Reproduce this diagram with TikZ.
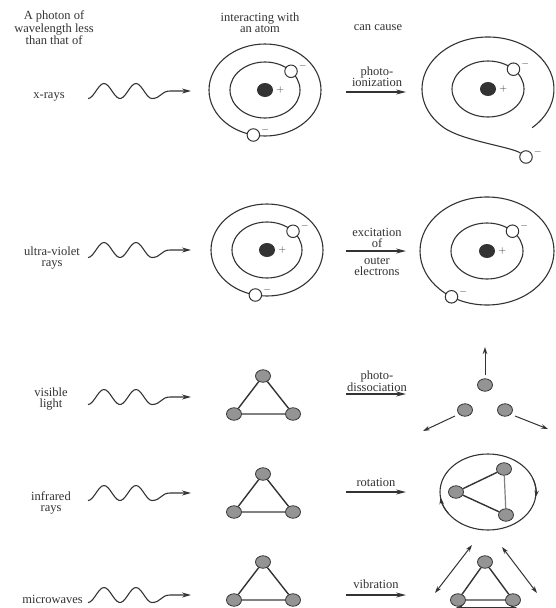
\documentclass[tikz,border=0pt]{standalone}
\usepackage{fontspec}
\setmainfont{Liberation Serif}
\usetikzlibrary{shapes.geometric,arrows.meta,calc}

\definecolor{ink}{gray}{0.2}
\definecolor{ballgray}{gray}{0.58}
\tikzset{
 txt/.style={align=center,font=\fontsize{12.5}{11}\selectfont,text=ink,inner sep=0pt},
 charge/.style={inner sep=0pt,text=ink,font=\fontsize{10}{10}\selectfont},
 orbit/.style={draw=ink,line width=1.1pt},
 nucleus/.style={ellipse,fill=ink,minimum width=16pt,minimum height=14pt,inner sep=0pt,
   label={[charge,xshift=3pt]0:$+$}},
 electron/.style={circle,draw=ink,line width=1pt,fill=white,minimum size=12.5pt,inner sep=0pt,
   label={[charge,xshift=1pt,yshift=5pt]0:$-$}},
 ball/.style={ellipse,draw=ink,line width=0.8pt,fill=ballgray,minimum width=15pt,minimum height=12.5pt,inner sep=0pt},
 bond/.style={draw=ink,line width=1.4pt},
 base/.style={draw=gray,line width=1.2pt},
 photon/.style={draw=ink,line width=1.1pt,-{Stealth[length=9pt,width=5pt]}},
 react/.style={draw=ink,line width=1.1pt,-{Stealth[length=10pt,width=5pt]}},
 push/.style={draw=ink,line width=1pt,-{Stealth[length=7pt,width=4.5pt]}},
 shake/.style={draw=ink,line width=1pt,{Stealth[length=7pt,width=4.5pt]}-{Stealth[length=7pt,width=4.5pt]}},
}

\begin{document}
\begin{tikzpicture}[x=1pt,y=1pt]
 \useasboundingbox (0,0) rectangle (555,-608);
 % headings
 \node[txt] (head1) at (54,-28) {A photon of\\wavelength less\\than that of};
 \node[txt] (head2) at (260,-23) {interacting with\\an atom};
 \node[txt] (head3) at (378,-28) {can cause};
 % kind of photon
 \node[txt] (xr) at (49,-97) {x-rays};
 \node[txt] (uv) at (52,-258) {ultra-violet\\rays};
 \node[txt] (vis) at (51,-399) {visible\\light};
 \node[txt] (ir) at (51,-503) {infrared\\rays};
 \node[txt,anchor=east] (mw) at (83,-599) {microwaves};
 % photons
 \foreach \i/\y in {1/91,2/250,3/397,4/493,5/595}{
  \coordinate (p\i) at (88,-\y);
  \draw[photon,shift={(p\i)}] plot[smooth,domain=0:64,samples=30] (\x,{7.5*sin(11.25*\x-90)})
   .. controls +(9,0) and +(-9,0) .. ++(18,7.5) -- ++(21,0);
 }
 % arrows to the effect
 \foreach \i/\y in {1/92,2/251,3/394,4/492,5/595}{
  \coordinate (r\i) at (346,-\y);
  \coordinate (s\i) at (406,-\y);
  \draw[react] (r\i) -- (s\i);
 }
 \node[txt] (t1) at (377,-77) {photo-\\ionization};
 \node[txt] (t2a) at (377,-238) {excitation\\of};
 \node[txt] (t2b) at (377,-267) {outer\\electrons};
 \node[txt] (t3) at (377,-381) {photo-\\dissociation};
 \node[txt] (t4) at (376,-482) {rotation};
 \node[txt] (t5) at (376,-584) {vibration};

 % atoms
 \coordinate (A1) at (265,-90);
 \coordinate (B1) at (488,-89);
 \coordinate (A2) at (267,-250);
 \coordinate (B2) at (487,-251);
 \draw[orbit] (A1) ellipse [x radius=56,y radius=46];
 \draw[orbit] (A1) ellipse [x radius=35,y radius=28];
 \draw[orbit] (A2) ellipse [x radius=56,y radius=46];
 \draw[orbit] (A2) ellipse [x radius=35,y radius=28];
 \draw[orbit] (B1) ellipse [x radius=36,y radius=28];
 \draw[orbit] (B2) ellipse [x radius=67,y radius=54];
 \draw[orbit] (B2) ellipse [x radius=36,y radius=28];
 \node[nucleus] (n1) at (A1) {};
 \node[nucleus] (n2) at (B1) {};
 \node[nucleus] (n3) at (A2) {};
 \node[nucleus] (n4) at (B2) {};
 \node[electron] (e1) at ($(A1)+(42:35 and 28)$) {};
 \node[electron] (e2) at ($(A1)+(258:56 and 46)$) {};
 \node[electron] (e3) at ($(B1)+(45:36 and 28)$) {};
 \node[electron] (e4) at (526,-157) {};
 \node[electron] (e5) at ($(A2)+(42:35 and 28)$) {};
 \node[electron] (e6) at ($(A2)+(258:56 and 46)$) {};
 \node[electron] (e7) at ($(B2)+(45:36 and 28)$) {};
 \node[electron] (e8) at ($(B2)+(238:67 and 54)$) {};
 % the electron that gets away
 \draw[orbit] ($(B1)+(-48:66 and 52)$) arc[start angle=-48,end angle=228,x radius=66,y radius=52]
  .. controls +(18,-13) and +(-14,10) .. (e4);

 % molecules
 \foreach \m/\y in {m3/395,m4/493,m5/581}{
  \node[ball] (\m t) at (263,-\y+19) {};
  \node[ball] (\m l) at (234,-\y-19) {};
  \node[ball] (\m r) at (293,-\y-19) {};
  \draw[bond] (\m t) -- (\m l);
  \draw[bond] (\m t) -- (\m r);
  \draw[base] (\m l) -- (\m r);
 }

 % dissociation
 \node[ball] (d1) at (485,-385) {};
 \node[ball] (d2) at (465,-410) {};
 \node[ball] (d3) at (505,-410) {};
 \draw[push] ($(d1)+(0,10)$) -- ($(d1)+(0,38)$);
 \draw[push] ($(d2)+(-10,-6)$) -- ($(d2)+(-42,-21)$);
 \draw[push] ($(d3)+(10,-6)$) -- ($(d3)+(43,-19)$);

 % rotation
 \coordinate (R) at (488,-492);
 \draw[orbit] (R) ellipse [x radius=48,y radius=38];
 \draw[push] ($(R)+(215:48 and 38)$) arc[start angle=215,end angle=188,x radius=48,y radius=38];
 \draw[push] ($(R)+(20:48 and 38)$) arc[start angle=20,end angle=-8,x radius=48,y radius=38];
 \node[ball] (o1) at (456,-492) {};
 \node[ball] (o2) at (504,-469) {};
 \node[ball] (o3) at (506,-515) {};
 \draw[bond] (o1) -- (o2);
 \draw[bond] (o1) -- (o3);
 \draw[base] (o2) -- (o3);

 % vibration
 \node[ball] (v1) at (485,-562) {};
 \node[ball] (v2) at (458,-600) {};
 \node[ball] (v3) at (513,-600) {};
 \draw[bond] (v1) -- (v2);
 \draw[bond] (v1) -- (v3);
 \draw[base] (v2) -- (v3);
 \draw[shake] ($(v2)+(-23,7)$) -- ($(v2)+(14,55)$);
 \draw[shake] ($(v3)+(-11,53)$) -- ($(v3)+(24,7)$);
 \draw[shake] ($(v2)+(-2,-7.5)$) -- ($(v3)+(4,-7.5)$);
\end{tikzpicture}
\end{document}
